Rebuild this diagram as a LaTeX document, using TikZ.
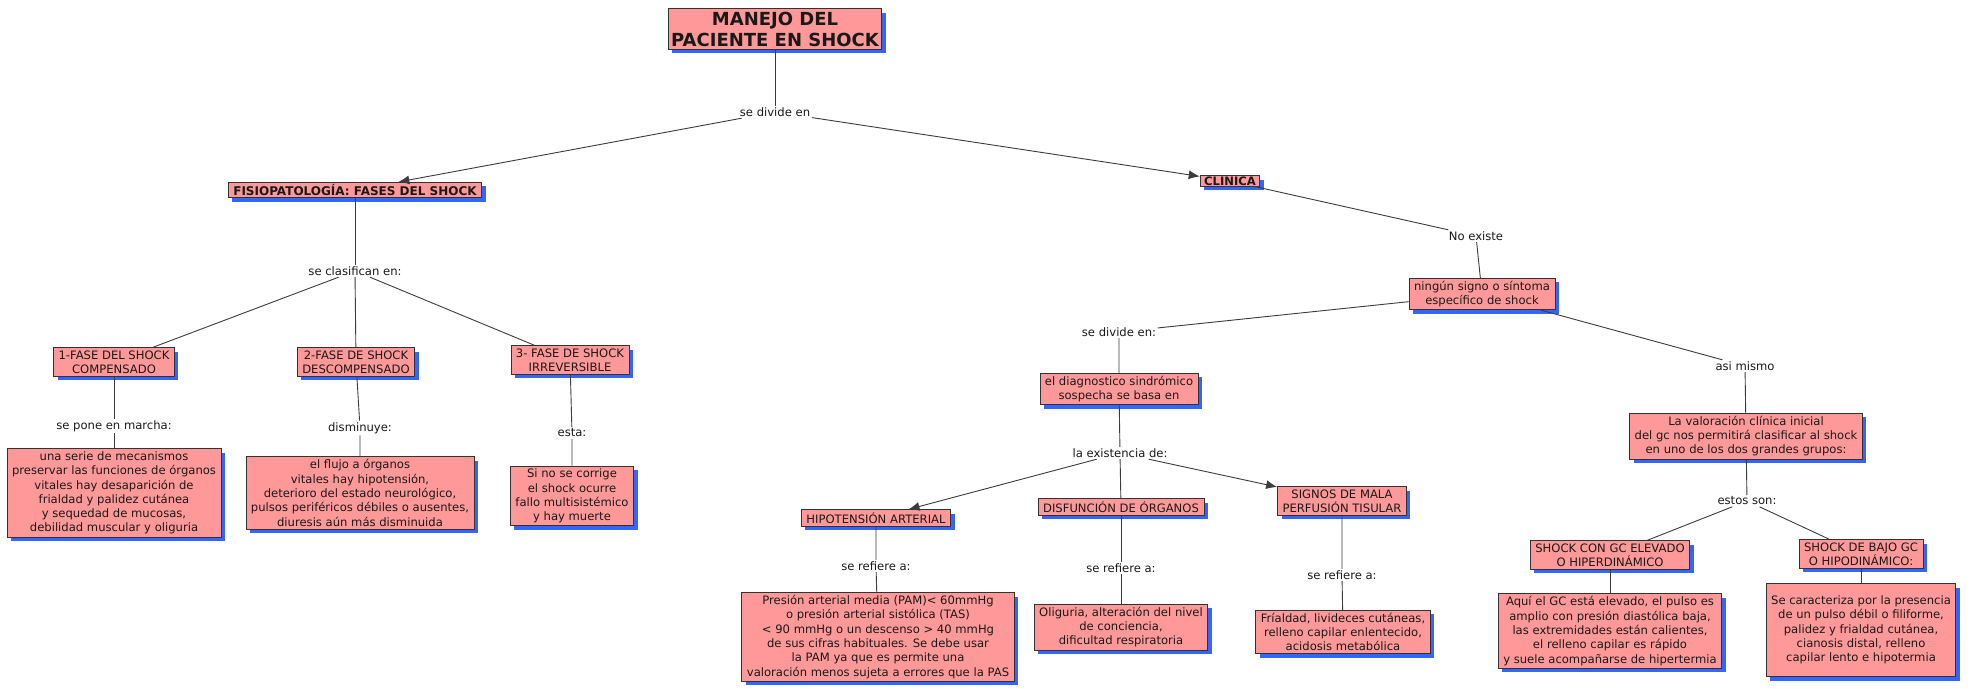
\documentclass[tikz,border=0pt]{standalone}
\usepackage{fontspec}
\setmainfont{DejaVu Sans}
\usepackage{tikz}
\usetikzlibrary{arrows.meta,shadows}
\definecolor{boxfill}{RGB}{255,153,153}
\definecolor{shadowblue}{RGB}{51,102,255}
\definecolor{linkgray}{RGB}{60,60,60}

\begin{document}
\begin{tikzpicture}[x=1pt, y=-1pt, every node/.style={font=\fontsize{11.6}{14.3}\selectfont, text=black!90, align=center}, >={Latex[length=11pt,width=9pt]},
	concept/.style={draw=black!80, fill=boxfill, line width=0.8pt, inner xsep=5pt, inner ysep=2.8pt, drop shadow={shadow xshift=4pt, shadow yshift=-4pt, fill=shadowblue, opacity=1}},
	phrase/.style={inner sep=1.5pt},
	link/.style={draw=linkgray, line width=0.9pt}]
	\useasboundingbox (0,0) rectangle (1978,688);
	\node[concept, font=\bfseries\fontsize{18}{21}\selectfont, inner xsep=3pt] (title) at (775,29) {MANEJO DEL\\PACIENTE EN SHOCK};
	\node[phrase] (ldiv) at (775,112) {se divide en};
	\node[concept, font=\bfseries\fontsize{12}{14}\selectfont, inner ysep=2pt] (fisio) at (355,190) {FISIOPATOLOGÍA: FASES DEL SHOCK};
	\node[concept, font=\bfseries\fontsize{11.6}{14}\selectfont, inner xsep=4pt, inner ysep=1pt] (clinica) at (1230,181) {CLINICA};
	\node[phrase] (lclas) at (355,271) {se clasifican en:};
	\node[concept] (f1) at (114,362) {1-FASE DEL SHOCK\\COMPENSADO};
	\node[concept] (f2) at (356,362) {2-FASE DE SHOCK\\DESCOMPENSADO};
	\node[concept] (f3) at (570,360) {3- FASE DE SHOCK\\IRREVERSIBLE};
	\node[phrase] (lmarcha) at (114,426) {se pone en marcha:};
	\node[phrase] (ldism) at (360,428) {disminuye:};
	\node[phrase] (lesta) at (572,433) {esta:};
	\node[concept] (m1) at (114,493) {una serie de mecanismos\\preservar las funciones de órganos\\vitales hay desaparición de\\frialdad y palidez cutánea\\y sequedad de mucosas,\\debilidad muscular y oliguria};
	\node[concept] (m2) at (360,493) {el flujo a órganos\\vitales hay hipotensión,\\deterioro del estado neurológico,\\pulsos periféricos débiles o ausentes,\\diuresis aún más disminuida};
	\node[concept] (m3) at (572,496) {Si no se corrige\\el shock ocurre\\fallo multisistémico\\y hay muerte};
	\node[phrase] (lnoex) at (1476,236) {No existe};
	\node[concept] (ningun) at (1482,294) {ningún signo o síntoma\\específico de shock};
	\node[phrase] (ldiv2) at (1119,332) {se divide en:};
	\node[concept] (diag) at (1119,389) {el diagnostico sindrómico\\sospecha se basa en};
	\node[phrase] (lexist) at (1120,453) {la existencia de:};
	\node[concept] (hipo) at (876,518) {HIPOTENSIÓN ARTERIAL};
	\node[concept] (disf) at (1121,507) {DISFUNCIÓN DE ÓRGANOS};
	\node[concept] (signos) at (1342,501) {SIGNOS DE MALA\\PERFUSIÓN TISULAR};
	\node[phrase] (lref1) at (876,566) {se refiere a:};
	\node[phrase] (lref2) at (1121,568) {se refiere a:};
	\node[phrase] (lref3) at (1342,575) {se refiere a:};
	\node[concept] (pres) at (878,637) {Presión arterial media (PAM)< 60mmHg\\o presión arterial sistólica (TAS)\\< 90 mmHg o un descenso > 40 mmHg\\de sus cifras habituales. Se debe usar\\la PAM ya que es permite una\\valoración menos sujeta a errores que la PAS};
	\node[concept] (olig) at (1121,627) {Oliguria, alteración del nivel\\de conciencia,\\dificultad respiratoria};
	\node[concept] (fria) at (1343,632) {Fríaldad, livideces cutáneas,\\relleno capilar enlentecido,\\acidosis metabólica};
	\node[phrase] (lasi) at (1745,366) {asi mismo};
	\node[concept] (val) at (1746,436) {La valoración clínica inicial\\del gc nos permitirá clasificar al shock\\en uno de los dos grandes grupos:};
	\node[phrase] (lestos) at (1747,501) {estos son:};
	\node[concept] (cgc) at (1610,555) {SHOCK CON GC ELEVADO\\O HIPERDINÁMICO};
	\node[concept] (bgc) at (1861,554) {SHOCK DE BAJO GC\\O HIPODINÁMICO:};
	\node[concept] (aqui) at (1610,631) {Aquí el GC está elevado, el pulso es\\amplio con presión diastólica baja,\\las extremidades están calientes,\\el relleno capilar es rápido\\y suele acompañarse de hipertermia};
	\node[concept, minimum height=93pt] (secar) at (1861,630) {Se caracteriza por la presencia\\de un pulso débil o filiforme,\\palidez y frialdad cutánea,\\cianosis distal, relleno\\capilar lento e hipotermia};
	\draw[link] (title) -- (ldiv);
	\draw[link, ->] (ldiv) -- (fisio);
	\draw[link, ->] (ldiv) -- (clinica);
	\draw[link] (fisio) -- (lclas);
	\draw[link] (lclas) -- (f1);
	\draw[link] (lclas) -- (f2);
	\draw[link] (lclas) -- (f3);
	\draw[link] (f1) -- (lmarcha) -- (m1);
	\draw[link] (f2) -- (ldism) -- (m2);
	\draw[link] (f3) -- (lesta) -- (m3);
	\draw[link] (clinica) -- (lnoex) -- (ningun);
	\draw[link] (ningun) -- (ldiv2) -- (diag);
	\draw[link] (diag) -- (lexist);
	\draw[link, ->] (lexist) -- (hipo);
	\draw[link] (lexist) -- (disf);
	\draw[link, ->] (lexist) -- (signos);
	\draw[link] (hipo) -- (lref1) -- (pres);
	\draw[link] (disf) -- (lref2) -- (olig);
	\draw[link] (signos) -- (lref3) -- (fria);
	\draw[link] (ningun) -- (lasi) -- (val);
	\draw[link] (val) -- (lestos);
	\draw[link] (lestos) -- (cgc);
	\draw[link] (lestos) -- (bgc);
	\draw[link] (cgc) -- (aqui);
	\draw[link] (bgc) -- (secar);
\end{tikzpicture}
\end{document}
